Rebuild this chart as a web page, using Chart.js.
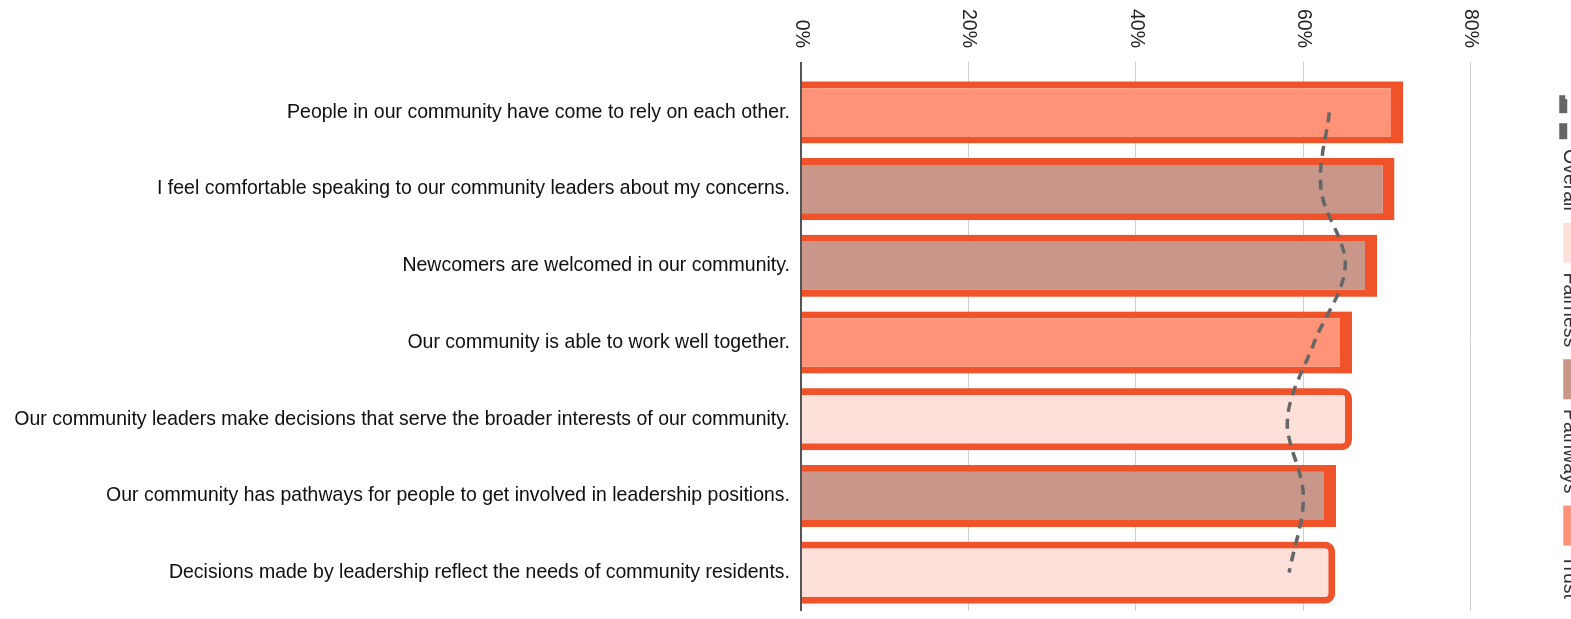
<!DOCTYPE html>
<html lang="en">
<head>
<meta charset="UTF-8">
<title>Community Leadership Survey</title>
<script src="https://cdn.jsdelivr.net/npm/chart.js"></script>
<style>
  html, body { margin: 0; padding: 0; background: #fff; overflow: hidden; }
  body { width: 1571px; height: 619px; position: relative; }
  /* laid out as a column chart, then turned a quarter clockwise */
  #turn {
    position: absolute; left: 0; top: 0;
    width: 619px; height: 1591px;
    transform-origin: 0 0;
    transform: translateX(1591px) rotate(90deg);
  }
</style>
</head>
<body>
<div id="turn"><canvas id="chart" width="619" height="1591"></canvas></div>
<script>
const statements = [
  'People in our community have come to rely on each other.',
  'I feel comfortable speaking to our community leaders about my concerns.',
  'Newcomers are welcomed in our community.',
  'Our community is able to work well together.',
  'Our community leaders make decisions that serve the broader interests of our community.',
  'Our community has pathways for people to get involved in leadership positions.',
  'Decisions made by leadership reflect the needs of community residents.'
];
const themes = ['Trust', 'Pathways', 'Pathways', 'Trust', 'Fairness', 'Pathways', 'Fairness'];
const agreePct = [71.9, 70.9, 68.8, 65.8, 65.8, 63.9, 63.8];
const overallPct = [63.1, 62.1, 65.0, 61.3, 58.1, 60.0, 58.3];
const pctTicks = [0, 20, 40, 60, 80];
const themeNames = ['Fairness', 'Pathways', 'Trust'];
const themeFill = { Fairness: '#fde0da', Pathways: '#c9968a', Trust: '#ff9378' };

const ORANGE = '#f0522a';
const FONT = { family: '"Liberation Sans", Arial, Helvetica, sans-serif', size: 19.5 };
Chart.defaults.font.family = FONT.family;

const barSets = themeNames.map(t => ({
  type: 'bar',
  label: t,
  data: agreePct.map((v, i) => themes[i] === t ? v : null),
  backgroundColor: themeFill[t],
  borderColor: ORANGE,
  // Fairness bars get an even rounded outline, the others a heavier cap
  borderWidth: t === 'Fairness' ? 7 : { top: 12, left: 7, right: 7, bottom: 0 },
  borderRadius: t === 'Fairness' ? 10 : 0,
  borderSkipped: 'start',
  order: 1
}));

const overallLine = {
  type: 'line',
  label: 'Overall',
  data: overallPct,
  borderColor: '#666666',
  borderWidth: 3.5,
  borderDash: [10, 7],
  pointRadius: 0,
  tension: 0.35,
  fill: false,
  order: 0
};

new Chart(document.getElementById('chart'), {
  data: { labels: statements, datasets: [overallLine, ...barSets] },
  options: {
    responsive: false,
    animation: false,
    devicePixelRatio: 1,
    layout: { padding: { right: 8 } },
    datasets: { bar: { grouped: false, barPercentage: 0.9, categoryPercentage: 0.9 } },
    plugins: {
      tooltip: { enabled: false },
      legend: {
        position: 'top',
        align: 'end',
        labels: {
          boxWidth: 40,
          boxHeight: 12,
          padding: 12,
          font: FONT,
          color: '#333',
          generateLabels: chart => chart.data.datasets.map((ds, i) => {
            const dashed = ds.type === 'line';
            return {
              text: ds.label,
              datasetIndex: i,
              hidden: !chart.isDatasetVisible(i),
              fillStyle: dashed ? 'rgba(0,0,0,0)' : ds.backgroundColor,
              strokeStyle: dashed ? ds.borderColor : ds.backgroundColor,
              lineWidth: dashed ? 8 : 0,
              lineDash: dashed ? [16, 10] : [],
              fontColor: '#333'
            };
          })
        }
      }
    },
    scales: {
      x: {
        ticks: { minRotation: 90, maxRotation: 90, autoSkip: false, padding: 11, color: '#111', font: FONT },
        grid: { display: false, drawTicks: false },
        border: { display: false },
        afterFit: s => { s.height = 801; }
      },
      y: {
        min: 0,
        max: 89.4,
        ticks: {
          stepSize: 20,
          padding: 14,
          color: '#222',
          font: FONT,
          callback: v => pctTicks.includes(v) ? v + '%' : null
        },
        // the zero line doubles as the dark category axis
        grid: {
          color: c => c.tick && c.tick.value === 0 ? '#555' : '#d0d0d0',
          lineWidth: c => c.tick && c.tick.value === 0 ? 2 : 1,
          tickLength: 12
        },
        border: { display: false },
        afterFit: s => { s.width = 74; }
      }
    }
  }
});
</script>
</body>
</html>
